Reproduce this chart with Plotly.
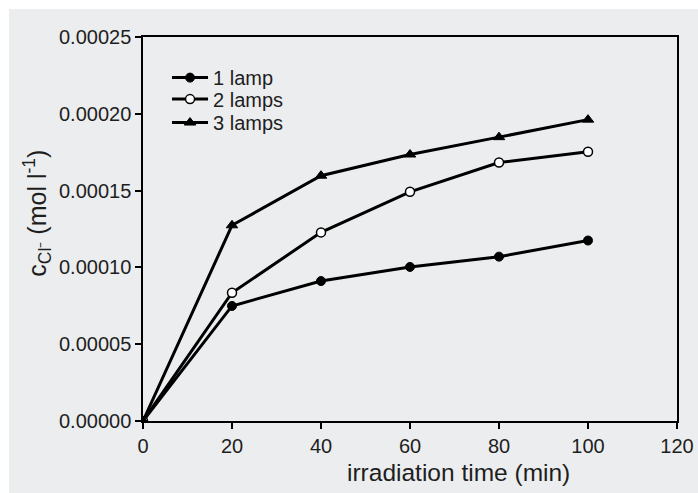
import plotly.graph_objects as go

# Irradiation time (min)
time_min = [0, 20, 40, 60, 80, 100]

# Chloride concentration (mol/l) for each lamp configuration
one_lamp = [0.0, 0.0000749, 0.0000911, 0.0001003, 0.0001070, 0.0001175]
two_lamps = [0.0, 0.0000835, 0.0001228, 0.0001492, 0.0001683, 0.0001753]
three_lamps = [0.0, 0.0001274, 0.0001597, 0.0001735, 0.0001848, 0.0001962]

series_names = ["1 lamp", "2 lamps", "3 lamps"]
x_ticks = [0, 20, 40, 60, 80, 100, 120]
y_ticks = [0.0, 0.00005, 0.00010, 0.00015, 0.00020, 0.00025]
x_title = "irradiation time (min)"
y_title = "c<sub>Cl⁻</sub> (mol l<sup>-1</sup>)"

FONT = "Liberation Sans, Arial, sans-serif"
TEXT = "#1e1e1e"
PANEL = "#ecedee"

fig = go.Figure()

styles = [
    dict(symbol="circle", size=9, color="black", line=dict(color="black", width=1)),
    dict(symbol="circle", size=9, color="white", line=dict(color="black", width=1.5)),
    dict(symbol="triangle-up", size=10, color="black", line=dict(color="black", width=1)),
]
legend_ids = ["legend", "legend2", "legend3"]

for name, values, marker, lg in zip(series_names, [one_lamp, two_lamps, three_lamps], styles, legend_ids):
    fig.add_trace(go.Scatter(
        x=time_min, y=values, name=name, mode="lines+markers",
        line=dict(color="black", width=3),
        marker=marker, legend=lg,
    ))

# light grey panel behind the whole chart
fig.add_shape(
    type="rect", xref="paper", yref="paper",
    x0=-0.2509, x1=1.06, y0=-0.2, y1=1.0729,
    fillcolor=PANEL, line=dict(width=0), layer="below",
)

axis_common = dict(
    showgrid=False, zeroline=False, showline=True, mirror=True,
    linecolor="black", linewidth=1.5, automargin=False,
    ticks="outside", ticklen=6, tickwidth=1.5, tickcolor="black",
    tickfont=dict(family=FONT, size=20, color=TEXT),
)

fig.update_xaxes(range=[0, 120], tickvals=x_ticks, **axis_common)
fig.update_yaxes(range=[0, 0.00025], tickvals=y_ticks, tickformat=".5f", **axis_common)

# axis titles, placed off-centre as in the original layout
fig.add_annotation(
    text=x_title, xref="paper", yref="paper", x=0.5906, y=-0.135,
    xanchor="center", yanchor="middle", showarrow=False,
    font=dict(family=FONT, size=24.5, color=TEXT),
)
fig.add_annotation(
    text=y_title, xref="paper", yref="paper", x=-0.1985, y=0.54,
    xanchor="center", yanchor="middle", showarrow=False, textangle=-90,
    font=dict(family=FONT, size=25, color=TEXT),
)

legend_style = dict(
    x=0.045, xanchor="left", yanchor="top",
    bgcolor="rgba(0,0,0,0)", borderwidth=0,
    font=dict(family=FONT, size=20, color=TEXT),
    itemwidth=36,
)

fig.update_layout(
    width=698, height=493,
    margin=dict(l=143, r=21, t=37, b=72),
    paper_bgcolor="white",
    plot_bgcolor="rgba(0,0,0,0)",
    font=dict(family=FONT, color=TEXT),
    legend=dict(y=0.945, **legend_style),
    legend2=dict(y=0.889, **legend_style),
    legend3=dict(y=0.828, **legend_style),
    showlegend=True,
)

fig.write_html("out.html")
